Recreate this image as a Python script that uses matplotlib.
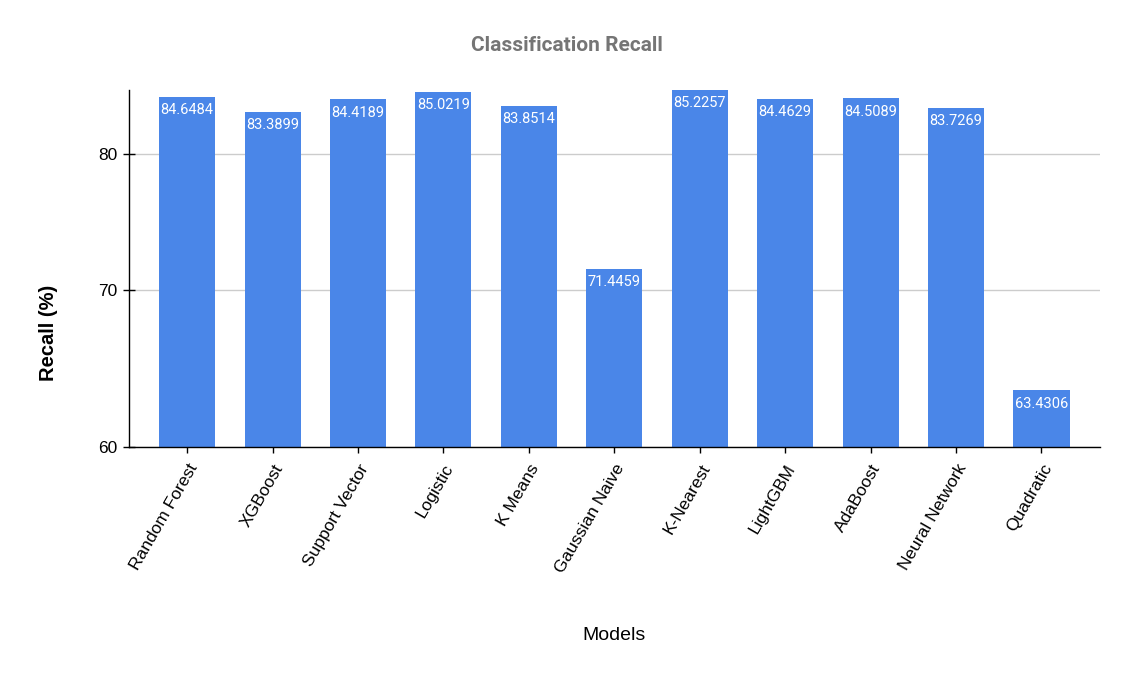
# classification recall bar chart (log y axis, like the sheets export)
import matplotlib.pyplot as plt
from matplotlib.ticker import FixedLocator, NullLocator, FixedFormatter

models = ['Random Forest', 'XGBoost', 'Support Vector', 'Logistic', 'K Means',
          'Gaussian Naive', 'K-Nearest', 'LightGBM', 'AdaBoost', 'Neural Network',
          'Quadratic']
recall = [84.6484, 83.3899, 84.4189, 85.0219, 83.8514, 71.4459, 85.2257,
          84.4629, 84.5089, 83.7269, 63.4306]
yticks = [60, 70, 80]

plt.rcParams['font.family'] = ['Liberation Sans', 'DejaVu Sans']
roboto = ['Roboto', 'DejaVu Sans']

fig = plt.figure(figsize=(11.33, 6.76), dpi=100)
ax = fig.add_axes([0.1139, 0.3388, 0.8566, 0.5281])

x = list(range(len(models)))
bars = ax.bar(x, recall, width=0.656, color='#4a86e8', zorder=2)

ax.set_yscale('log')
ax.set_ylim(60, 85.2)
ax.set_xlim(-0.68, len(models) - 0.32)
ax.yaxis.set_major_locator(FixedLocator(yticks))
ax.yaxis.set_major_formatter(FixedFormatter([str(t) for t in yticks]))
ax.yaxis.set_minor_locator(NullLocator())
ax.grid(axis='y', color='#cccccc', linewidth=1, zorder=0)

# values inside top of bars
for xi, v in zip(x, recall):
    ax.annotate(f'{v:.4f}', (xi, v), xytext=(0, -4.5), textcoords='offset points',
                ha='center', va='top', color='white', fontsize=10.5, family=roboto)

for s in ['top', 'right']:
    ax.spines[s].set_visible(False)
ax.spines['left'].set_linewidth(1)
ax.spines['bottom'].set_linewidth(1)
ax.tick_params(axis='both', direction='inout', length=9, width=1, colors='black')
ax.tick_params(axis='y', labelsize=12.5, pad=4)

ax.set_xticks(x)
ax.set_xticklabels(models, rotation=60, ha='right', rotation_mode='anchor',
                   fontsize=12.5)
ax.tick_params(axis='x', pad=6)

ax.set_xlabel('Models', fontsize=14, labelpad=37)
ax.set_ylabel('Recall (%)', fontsize=14.5, fontweight='bold')
ax.yaxis.set_label_coords(-0.073, 0.32)
fig.text(0.5, 0.932, 'Classification Recall', ha='center', va='center',
         fontsize=15, fontweight='bold', color='#757575', family=roboto)

fig.savefig('out.png', dpi=100)
